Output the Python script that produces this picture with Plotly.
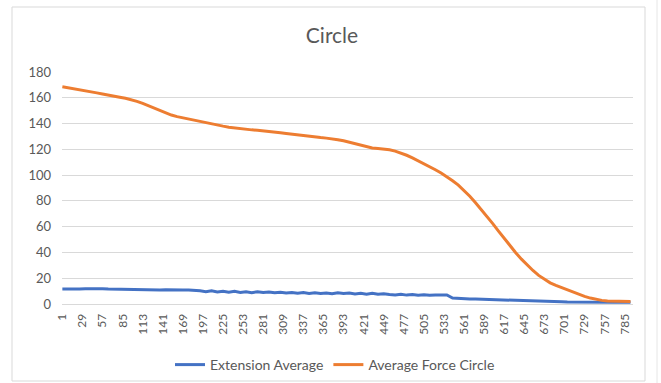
import plotly.graph_objects as go

# Sampled category indices (every 8th reading of the 1..796 series)
categories = list(range(1, 797, 8))

# Average force for the circle specimen
average_force_circle = [
    168.5, 167.8, 167.0, 166.2, 165.4, 164.6, 163.8, 163.0, 162.0, 161.2,
    160.4, 159.6, 158.6, 157.2, 155.6, 153.8, 152.0, 150.0, 148.2, 146.6,
    145.4, 144.4, 143.6, 142.8, 141.8, 140.8, 139.8, 138.8, 138.0, 137.2,
    136.6, 136.0, 135.5, 135.1, 134.8, 134.4, 133.9, 133.4, 132.8, 132.2,
    131.6, 131.0, 130.4, 129.9, 129.5, 129.1, 128.7, 128.2, 127.5, 126.6,
    125.5, 124.3, 123.0, 121.8, 121.0, 120.6, 120.2, 119.6, 118.6, 117.2,
    115.4, 113.4, 111.2, 109.0, 106.6, 104.2, 101.6, 98.8, 95.6, 92.2,
    88.2, 83.6, 78.6, 73.4, 68.0, 62.4, 56.6, 50.8, 45.2, 39.8,
    34.8, 30.2, 26.0, 22.2, 19.0, 16.4, 14.4, 12.6, 10.8, 9.0,
    7.4, 5.9, 4.6, 3.6, 2.8, 2.3, 2.1, 2.0, 2.0, 2.0,
]

# Average extension
extension_average = [
    11.6, 11.5, 11.7, 11.6, 11.8, 11.9, 11.7, 11.8, 11.6, 11.5,
    11.4, 11.3, 11.2, 11.0, 10.8, 10.9, 10.7, 10.9, 11.0, 10.8,
    11.0, 10.9, 10.8, 10.6,
    10.2, 9.6, 10.3, 9.4, 9.9, 9.2, 9.8, 9.0, 9.4, 8.8,
    9.5, 8.9, 9.3, 8.7, 9.2, 8.6, 9.0,
    8.4, 8.9, 8.2, 8.7, 8.1, 8.6, 8.0, 8.8, 8.2, 8.5,
    7.8, 8.3, 7.6, 8.4, 7.5, 8.0,
    7.4, 7.0, 7.6, 6.9, 7.3, 6.8, 7.2, 6.7, 7.0, 6.9, 7.0,
    4.6,
    4.2, 4.0, 3.9, 3.8, 3.7, 3.6, 3.5,
    3.3, 3.1, 3.0, 2.9, 2.7, 2.6, 2.4,
    2.3, 2.2, 2.1, 2.0, 1.8, 1.6,
    1.5, 1.5, 1.4, 1.4, 1.4, 1.3, 1.3, 1.3, 1.3, 1.3, 1.3,
]

# Category axis labels (every 28th category)
x_tick_values = list(range(1, 786, 28))
x_tick_labels = [str(v) for v in x_tick_values]
y_tick_values = list(range(0, 181, 20))

FONT = "Lato, 'Open Sans', sans-serif"
TEXT_GRAY = "#595959"
GRID = "#d9d9d9"

fig = go.Figure()
fig.add_trace(go.Scatter(
    x=categories, y=extension_average, mode="lines",
    name="Extension Average", line=dict(color="#4472C4", width=3),
))
fig.add_trace(go.Scatter(
    x=categories, y=average_force_circle, mode="lines",
    name="Average Force Circle", line=dict(color="#ED7D31", width=3),
))

# Plot area spans pixels x 62..633, y 72..304
L, R, T, B = 62, 633, 72, 304
W, H = 661, 383

def px_x(x):
    return (x - L) / (R - L)

def px_y(y):
    return (B - y) / (B - T)

fig.update_layout(
    width=W, height=H,
    margin=dict(l=L, r=W - R, t=T, b=H - B),
    paper_bgcolor="white", plot_bgcolor="white",
    font=dict(family=FONT, color=TEXT_GRAY, size=12),
    title=dict(
        text="Circle", x=332 / W, y=1 - 36 / H, xref="container",
        yref="container", xanchor="center", yanchor="middle",
        font=dict(family=FONT, size=21, color=TEXT_GRAY),
    ),
    showlegend=True,
    legend=dict(
        orientation="h", xref="container", yref="container",
        x=335 / W, y=1 - 365 / H, xanchor="center", yanchor="middle",
        font=dict(family=FONT, size=14, color=TEXT_GRAY),
        bgcolor="rgba(0,0,0,0)",
    ),
    xaxis=dict(
        range=[0.5, 796.5], tickmode="array",
        tickvals=x_tick_values, ticktext=x_tick_labels,
        tickangle=-90, showgrid=False, zeroline=False,
        showline=True, linecolor=GRID, linewidth=1,
        ticks="", ticklabelstandoff=4,
        tickfont=dict(size=12, color=TEXT_GRAY),
    ),
    yaxis=dict(
        range=[0, 180], tickmode="array", tickvals=y_tick_values,
        showgrid=True, gridcolor=GRID, gridwidth=1, zeroline=False,
        showline=False, ticks="", ticklabelstandoff=10,
        tickfont=dict(size=13, color=TEXT_GRAY),
    ),
    shapes=[
        dict(type="rect", xref="paper", yref="paper",
             x0=px_x(12), x1=px_x(645), y0=px_y(381), y1=px_y(7),
             line=dict(color=GRID, width=1), layer="below"),
        dict(type="line", xref="paper", yref="paper",
             x0=px_x(657), x1=px_x(657), y0=px_y(383), y1=px_y(0),
             line=dict(color="#e6e6e6", width=1), layer="below"),
    ],
)

fig.write_html("out.html")
